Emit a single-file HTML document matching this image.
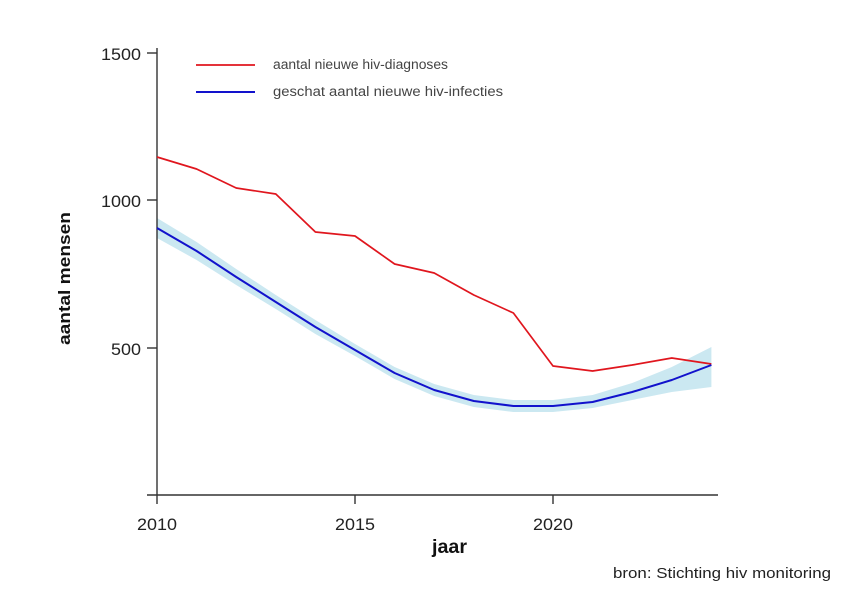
<!DOCTYPE html>
<html><head><meta charset="utf-8"><style>
html,body{margin:0;padding:0;background:#fff;}
svg{display:block;}
text{font-family:"Liberation Sans",sans-serif;}
</style></head><body>
<svg width="860" height="605" viewBox="0 0 860 605" xmlns="http://www.w3.org/2000/svg">
<rect width="860" height="605" fill="#fff"/>
<!-- band -->
<polygon fill="#cbe8f1" points="157,218 196.6,242 236.2,269 275.8,295 315.4,320 355,344 394.6,367 434.2,384 473.8,395 513.4,400 553,400 592.6,395 632.2,383 671.8,367 711.4,347 711.4,387 671.8,392 632.2,400 592.6,408 553,412 513.4,412 473.8,407 434.2,396 394.6,379 355,356 315.4,334 275.8,309 236.2,285 196.6,260 157,238"/>
<!-- axes -->
<g stroke="#333" stroke-width="1.4" fill="none">
<line x1="157" y1="48" x2="157" y2="495"/>
<line x1="147" y1="495" x2="718" y2="495"/>
<line x1="147" y1="53" x2="157" y2="53"/>
<line x1="147" y1="200" x2="157" y2="200"/>
<line x1="147" y1="348" x2="157" y2="348"/>
<line x1="157" y1="495" x2="157" y2="504"/>
<line x1="355" y1="495" x2="355" y2="504"/>
<line x1="553" y1="495" x2="553" y2="504"/>
</g>
<!-- red series -->
<polyline fill="none" stroke="#e0161e" stroke-width="1.7" stroke-linejoin="round" points="157,157 196.6,169 236.2,188 275.8,194 315.4,232 355,236 394.6,264 434.2,273 473.8,295 513.4,313 553,366 592.6,371 632.2,365 671.8,358 711.4,364"/>
<!-- blue series -->
<polyline fill="none" stroke="#1212cc" stroke-width="2" stroke-linejoin="round" points="157,228 196.6,251 236.2,277 275.8,302 315.4,327 355,350 394.6,373 434.2,390 473.8,401 513.4,406 553,406 592.6,402 632.2,392 671.8,380 711.4,365"/>
<!-- tick labels -->
<g font-size="17" fill="#222" text-anchor="end">
<text x="141" y="60" textLength="40" lengthAdjust="spacingAndGlyphs">1500</text>
<text x="141" y="207" textLength="40" lengthAdjust="spacingAndGlyphs">1000</text>
<text x="141" y="355" textLength="30" lengthAdjust="spacingAndGlyphs">500</text>
</g>
<g font-size="17" fill="#222">
<text x="137" y="530" textLength="40" lengthAdjust="spacingAndGlyphs">2010</text>
<text x="335" y="530" textLength="40" lengthAdjust="spacingAndGlyphs">2015</text>
<text x="533" y="530" textLength="40" lengthAdjust="spacingAndGlyphs">2020</text>
</g>
<text x="432" y="553" font-size="19" font-weight="bold" fill="#111" textLength="35" lengthAdjust="spacingAndGlyphs">jaar</text>
<text transform="translate(70,345) rotate(-90)" font-size="17" font-weight="bold" fill="#111" textLength="133" lengthAdjust="spacingAndGlyphs">aantal mensen</text>
<!-- legend -->
<line x1="196" y1="65" x2="255" y2="65" stroke="#e0161e" stroke-width="1.7"/>
<line x1="196" y1="92" x2="255" y2="92" stroke="#1212cc" stroke-width="2"/>
<text x="273" y="69" font-size="13.5" fill="#444" textLength="175" lengthAdjust="spacingAndGlyphs">aantal nieuwe hiv-diagnoses</text>
<text x="273" y="96" font-size="13.5" fill="#444" textLength="230" lengthAdjust="spacingAndGlyphs">geschat aantal nieuwe hiv-infecties</text>
<!-- source -->
<text x="613" y="578" font-size="15" fill="#222" textLength="218" lengthAdjust="spacingAndGlyphs">bron: Stichting hiv monitoring</text>
</svg>
</body></html>
